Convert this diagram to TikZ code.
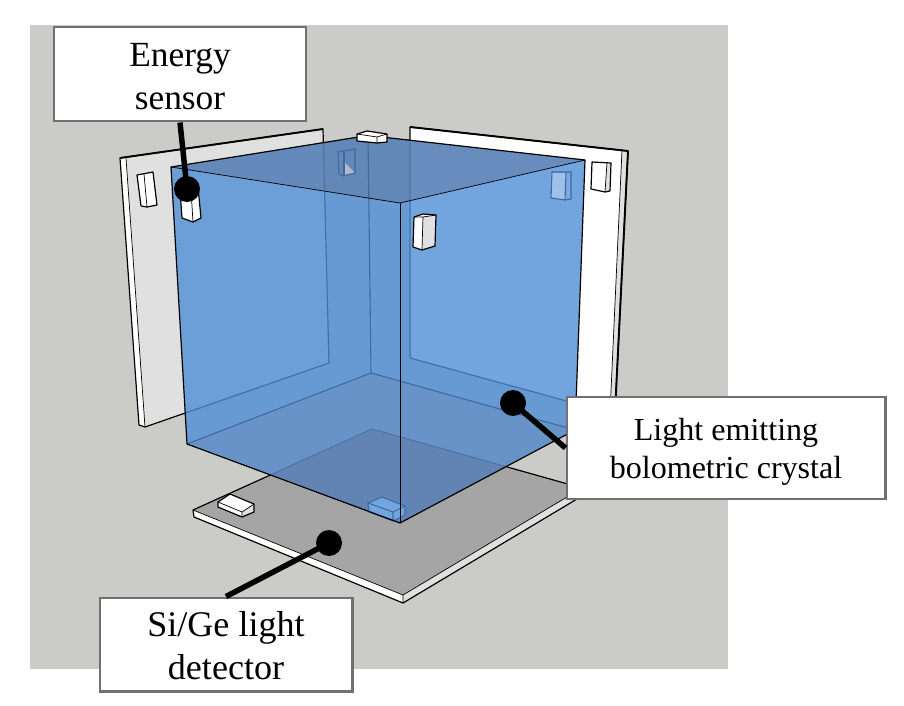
\documentclass[tikz,border=0pt]{standalone}
\usepackage{fontspec}
\setmainfont{Liberation Serif}
\usetikzlibrary{calc}
\definecolor{bgc}{HTML}{CBCCC8}
\definecolor{blueC}{RGB}{79,142,214}
\definecolor{shadeC}{RGB}{96,118,157}
\definecolor{floorS}{RGB}{110,130,170}
\definecolor{edgeC}{HTML}{3E6A9E}
\definecolor{boxC}{HTML}{707070}
\definecolor{plateC}{HTML}{E0E0E0}
\definecolor{floorC}{HTML}{A5A5A5}
\tikzset{
  outl/.style={draw=black,line width=1.2pt,line join=round},
  heavy/.style={draw=black,line width=1.9pt,line join=round},
  thin outl/.style={draw=black,line width=.7pt,line join=round},
  seen/.style={draw=edgeC,line width=1.1pt,line join=round},
  callout/.style={draw=boxC,fill=white,line width=3pt,align=center,inner sep=0pt},
  big/.style={align=center},
  dot/.style={circle,fill=black,minimum size=26bp,inner sep=0pt},
  lead/.style={draw=black,line width=5.5pt},
}
\begin{document}
\begin{tikzpicture}[x=1bp,y=-1bp]
\useasboundingbox (0,0) rectangle (904,706);
\fill[white] (0,0) rectangle (904,706);
\fill[bgc] (30,25) rectangle (728,669);
% left plate
\fill[plateC] (126,158)--(323,129)--(329,363)--(145,427)--cycle;
\fill[white] (120,158)--(126,158)--(145,427)--(139,425)--cycle;
\draw[outl] (145,427)--(139,425)--(120,158)--(323,129)--(329,363)--cycle;
\draw[heavy] (120,158)--(323,129);
\draw[thin outl] (126,158)--(145,427);
% right plate
\fill[white] (410,127)--(622,150)--(610,413)--(410,358)--cycle;
\fill[plateC] (622,150)--(628,151)--(615,412)--(610,413)--cycle;
\draw[outl] (410,358)--(410,127)--(628,151)--(615,412)--(610,413)--cycle;
\draw[heavy] (410,127)--(628,151)--(615,412);
\draw[thin outl] (622,150)--(610,413);
% bottom plate
\fill[floorC] (193,510)--(372,429)--(582,488)--(403,595)--cycle;
\fill[white] (193,510)--(403,595)--(403,603)--(194,517)--cycle;
\fill[plateC] (403,595)--(582,488)--(582,496)--(403,603)--cycle;
\draw[outl] (193,510)--(372,429)--(582,488)--(582,496)--(403,603)--(194,517)--cycle;
\draw[thin outl] (193,510)--(403,595)--(582,488) (403,595)--(403,603);
% sensor on bottom plate
\fill[white] (218,502)--(230,494)--(254,504)--(254,512)--(242,517)--(218,507)--cycle;
\fill[plateC] (242,512)--(254,504)--(254,512)--(242,517)--cycle;
\draw[outl] (218,502)--(230,494)--(254,504)--(254,512)--(242,517)--(218,507)--cycle;
\draw[thin outl] (218,502)--(242,512)--(254,504) (242,512)--(242,517);
% sensor on left plate
\fill[white] (137,175)--(153,173)--(157,205)--(141,207)--cycle;
\draw[outl] (137,175)--(153,172)--(157,205)--(147,207)--(141,206)--cycle;
\draw[thin outl] (144,174)--(147,207);
% sensor on right plate
\fill[white] (592,162)--(611,163)--(610,191)--(605,192)--(591,189)--cycle;
\fill[plateC] (607,163)--(611,163)--(610,191)--(605,192)--cycle;
\draw[outl] (592,162)--(611,163)--(610,191)--(605,192)--(591,189)--cycle;
\draw[thin outl] (607,163)--(605,192);
% crystal
\fill[blueC,opacity=.8] (171,167)--(368,135.5)--(585,160)--(575,430)--(400,523)--(187,444)--cycle;
\fill[shadeC,opacity=.5] (171,167)--(368,135.5)--(585,160)--(400,203)--cycle;
\fill[floorS,opacity=.25] (187,444)--(371,373)--(575,430)--(400,523)--cycle;
\begin{scope}
\clip (187,444)--(371,373)--(575,430)--(400,523)--cycle;
\fill[shadeC,opacity=.35] (193,510)--(372,429)--(582,488)--(403,595)--cycle;
\end{scope}
\draw[seen] (368,135.5)--(371,373);
\draw[seen] (187,444)--(371,373)--(575,430);
% sensors seen through the crystal
\fill[blueC!55!white] (552,172)--(566,173)--(565,200)--(551,198)--cycle;
\fill[blueC!75!white] (566,173)--(571,172)--(571,199)--(565,200)--cycle;
\draw[seen] (552,172)--(571,172)--(571,199)--(565,200)--(551,198)--cycle;
\draw[seen] (566,173)--(565,200);
\fill[shadeC!50!white] (345,163)--(355,173)--(345,175)--cycle;
\draw[seen] (338,152)--(355,149)--(355,173)--(343,176)--(339,174)--cycle;
\draw[seen] (344,152)--(344,176);
\fill[blueC!80!white] (368,503)--(382,497)--(405,506)--(405,515)--(393,521)--(369,512)--cycle;
\draw[seen] (368,503)--(382,497)--(405,506)--(405,515)--(393,521)--(369,512)--cycle;
\draw[seen] (368,503)--(393,512)--(405,506) (393,512)--(393,521);
% crystal front edges
\draw[outl] (171,167)--(368,135.5)--(585,160)--(575,430)--(400,523)--(187,444)--cycle;
\draw[thin outl] (171,167)--(400,203)--(585,160);
\draw[thin outl] (400,203)--(400,523);
% sensors in front
\fill[white] (357,134)--(367,131)--(387,134)--(387,142)--(377,143)--(357,141)--cycle;
\draw[outl] (357,134)--(367,131)--(387,134)--(387,142)--(377,143)--(357,141)--cycle;
\draw[thin outl] (357,134)--(377,137)--(387,134) (377,137)--(377,143);
\fill[white] (414,217)--(423,214)--(436,215)--(435,246)--(422,250)--(413,247)--cycle;
\fill[plateC] (423,217)--(436,215)--(435,246)--(422,250)--cycle;
\draw[outl] (414,217)--(423,214)--(436,215)--(435,246)--(422,250)--(413,247)--cycle;
\draw[thin outl] (414,217)--(423,217)--(436,215) (423,217)--(422,250);
\fill[white] (180,190)--(198,187)--(201,218)--(193,222)--(182,218)--cycle;
\draw[outl] (180,190)--(198,187)--(201,218)--(193,222)--(182,218)--cycle;
\draw[thin outl] (191,190)--(193,222);
% callouts
\node[callout,minimum width=252bp,minimum height=94bp,text depth=0pt] (es) at (180,74) {};
\node[callout,minimum width=318bp,minimum height=102bp] (le) at (726,448) {};
\node[callout,minimum width=252bp,minimum height=93bp] (sg) at (226,644.5) {};
\node[big,font=\fontsize{35.5}{43}\selectfont] (est) at (180,77) {Energy\\sensor};
\node[big,font=\fontsize{32.2}{38}\selectfont] (let) at (726,452) {Light emitting\\bolometric crystal};
\node[big,font=\fontsize{36.2}{43}\selectfont] (sgt) at (226,646) {Si/Ge light\\detector};
\node[dot] (esd) at (187,189) {};
\node[dot] (led) at (513,403) {};
\node[dot] (sgd) at (329,543) {};
\draw[lead] (esd.center)--(es.south);
\draw[lead] (led.center)--(le.west);
\draw[lead] (sgd.center)--(sg.north);
\end{tikzpicture}
\end{document}
